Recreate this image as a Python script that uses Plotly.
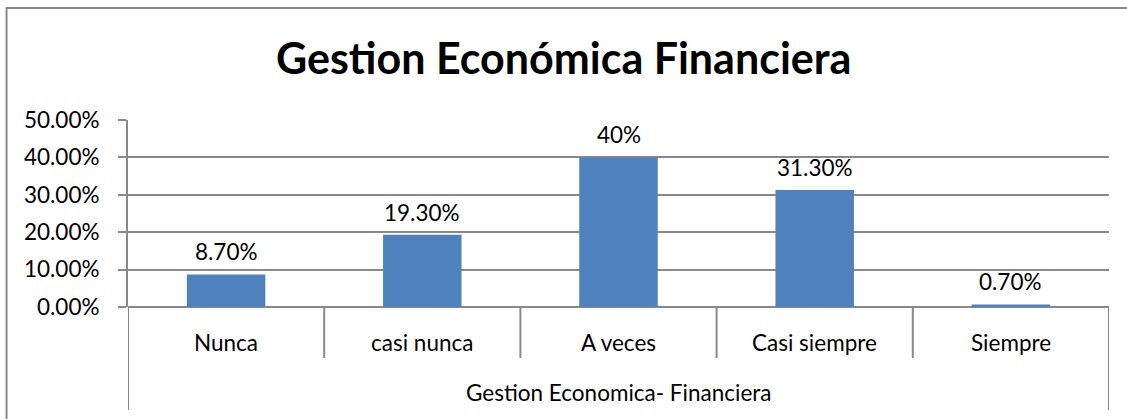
import plotly.graph_objects as go

# datos
categorias = ['Nunca', 'casi nunca', 'A veces', 'Casi siempre', 'Siempre']
porcentajes = [0.087, 0.193, 0.40, 0.313, 0.007]
etiquetas = ['8.70%', '19.30%', '40%', '31.30%', '0.70%']
grupo = 'Gestion Economica- Financiera'
titulo = 'Gestion Económica Financiera'

W, H = 1127, 419
L, R, T, B = 128, 17.5, 120, 112
pw = W - L - R
ph = H - T - B
gris = '#898989'
fuente = 'Lato, Calibri, Arial, sans-serif'
tam = 22.5


def px_x(x):  # pixel -> paper x
    return (x - L) / pw


def px_y(y):  # pixel -> paper y
    return (H - B - y) / ph


fig = go.Figure()
fig.add_trace(go.Bar(x=list(range(len(categorias))), y=porcentajes,
                     marker_color='#4F81BD', marker_line_width=0,
                     hoverinfo='skip'))

annotations = []
for i, (v, t) in enumerate(zip(porcentajes, etiquetas)):
    annotations.append(dict(x=i, y=v, xref='x', yref='y', text=t, showarrow=False,
                            yanchor='bottom', yshift=7,
                            font=dict(size=tam, color='#000000', family=fuente)))
    annotations.append(dict(x=i, y=px_y(342), xref='x', yref='paper', text=categorias[i],
                            showarrow=False, yanchor='middle',
                            font=dict(size=tam, color='#000000', family=fuente)))
annotations.append(dict(x=2, y=px_y(392), xref='x', yref='paper', text=grupo,
                        showarrow=False, yanchor='middle',
                        font=dict(size=tam, color='#000000', family=fuente)))
annotations.append(dict(x=px_x(W / 2), y=px_y(57), xref='paper', yref='paper',
                        text='<b>' + titulo + '</b>', showarrow=False, yanchor='middle',
                        font=dict(size=43, color='#000000', family=fuente)))

shapes = []
n = len(categorias)
for k in range(n + 1):
    fondo = 410 if k in (0, n) else 358
    shapes.append(dict(type='line', xref='x', yref='paper', x0=k - 0.5, x1=k - 0.5,
                       y0=0, y1=px_y(fondo), line=dict(color=gris, width=2)))
# borde del grafico
shapes.append(dict(type='rect', xref='paper', yref='paper',
                   x0=px_x(6.5), x1=px_x(1140), y0=px_y(440), y1=px_y(8),
                   line=dict(color=gris, width=2), layer='below'))

fig.update_layout(
    width=W, height=H,
    margin=dict(l=L, r=R, t=T, b=B, pad=0),
    paper_bgcolor='white', plot_bgcolor='white',
    showlegend=False, bargap=0.6,
    annotations=annotations, shapes=shapes,
    font=dict(family=fuente, size=tam, color='#000000'),
    xaxis=dict(range=[-0.5, n - 0.5], showticklabels=False, showgrid=False,
               zeroline=False, showline=False, ticks='', fixedrange=True),
    yaxis=dict(range=[0, 0.5], dtick=0.1, tickformat='.2%', ticks='outside',
               ticklen=8, tickwidth=2, tickcolor=gris, showline=True, linecolor=gris,
               linewidth=2, showgrid=True, gridcolor=gris, gridwidth=1.5,
               zeroline=True, zerolinecolor=gris, zerolinewidth=2,
               ticklabelstandoff=14, tickfont=dict(size=tam, family=fuente),
               fixedrange=True),
)

fig.write_html('out.html', config={'displayModeBar': False},
               post_script="document.body.style.margin='0';")
